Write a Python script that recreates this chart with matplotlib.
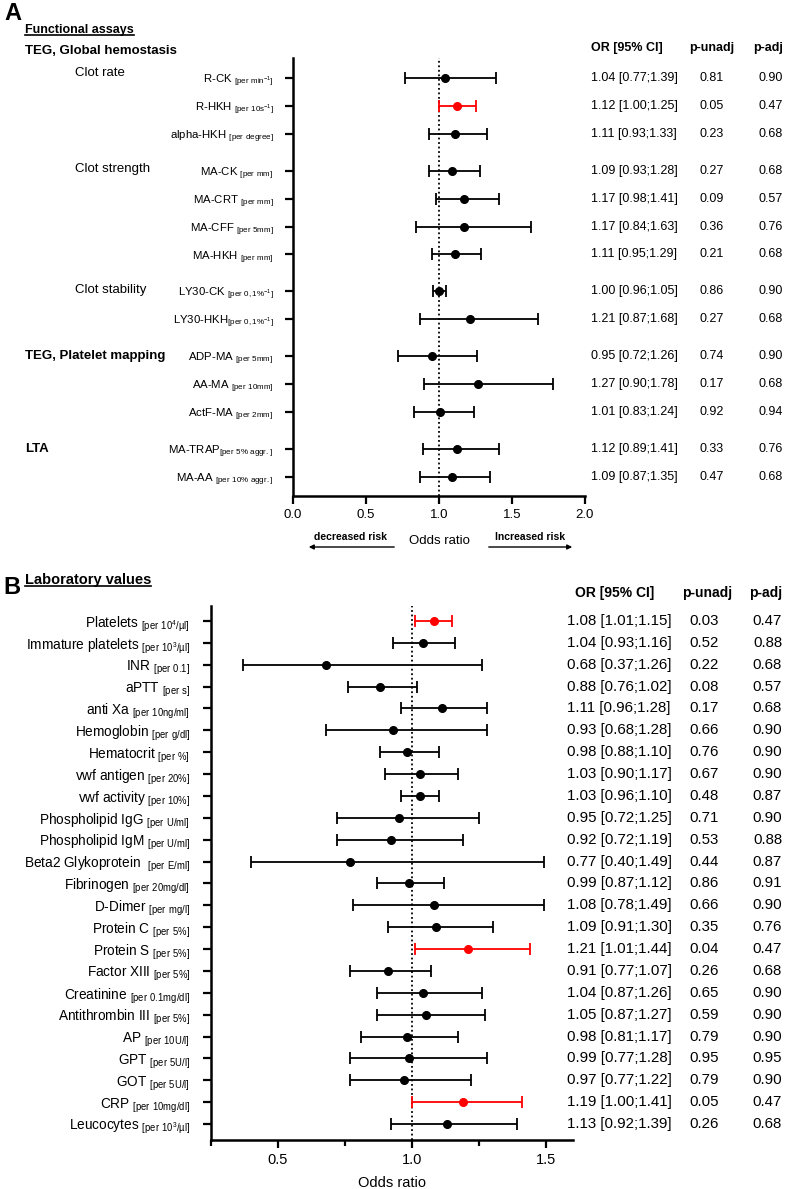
import numpy as np
import matplotlib
matplotlib.use("Agg")
import matplotlib.pyplot as plt
import matplotlib.transforms as mtransforms
from matplotlib.lines import Line2D
from matplotlib.patches import FancyArrowPatch

plt.rcParams['font.family'] = ['Liberation Sans', 'DejaVu Sans']
plt.rcParams['mathtext.default'] = 'regular'

W, H = 786, 1189

# ---- Panel A: functional assays ----
a_names = ["R-CK ", "R-HKH ", "alpha-HKH ", "MA-CK ", "MA-CRT ", "MA-CFF ", "MA-HKH ",
           "LY30-CK ", "LY30-HKH", "ADP-MA ", "AA-MA ", "ActF-MA ", "MA-TRAP", "MA-AA "]
a_units = [r"per\ min^{-1}", r"per\ 10s^{-1}", r"per\ degree", r"per\ mm", r"per\ mm",
           r"per\ 5mm", r"per\ mm", r"per\ 0,1\%^{-1}", r"per\ 0,1\%^{-1}", r"per\ 5mm",
           r"per\ 10mm", r"per\ 2mm", r"per\ 5\%\ aggr.", r"per\ 10\%\ aggr."]
a_block = [0, 0, 0, 1, 1, 1, 1, 2, 2, 3, 3, 3, 4, 4]
a_or = [1.04, 1.12, 1.11, 1.09, 1.17, 1.17, 1.11, 1.00, 1.21, 0.95, 1.27, 1.01, 1.12, 1.09]
a_lo = [0.77, 1.00, 0.93, 0.93, 0.98, 0.84, 0.95, 0.96, 0.87, 0.72, 0.90, 0.83, 0.89, 0.87]
a_hi = [1.39, 1.25, 1.33, 1.28, 1.41, 1.63, 1.29, 1.05, 1.68, 1.26, 1.78, 1.24, 1.41, 1.35]
a_punadj = [0.81, 0.05, 0.23, 0.27, 0.09, 0.36, 0.21, 0.86, 0.27, 0.74, 0.17, 0.92, 0.33, 0.47]
a_padj = [0.90, 0.47, 0.68, 0.68, 0.57, 0.76, 0.68, 0.90, 0.68, 0.90, 0.68, 0.94, 0.76, 0.68]
a_sublabels = {0: "Clot rate", 3: "Clot strength", 7: "Clot stability"}
a_sections = {0: "TEG, Global hemostasis", 9: "TEG, Platelet mapping", 12: "LTA"}

# ---- Panel B: laboratory values ----
b_names = ["Platelets ", "Immature platelets ", "INR ", "aPTT ", "anti Xa ", "Hemoglobin ",
           "Hematocrit ", "vwf antigen ", "vwf activity ", "Phospholipid IgG ",
           "Phospholipid IgM ", "Beta2 Glykoprotein  ", "Fibrinogen ", "D-Dimer ",
           "Protein C ", "Protein S ", "Factor XIII ", "Creatinine ", "Antithrombin III ",
           "AP ", "GPT ", "GOT ", "CRP ", "Leucocytes "]
b_units = [r"per\ 10^{4}/µl", r"per\ 10^{3}/µl", r"per\ 0.1", r"per\ s", r"per\ 10ng/ml",
           r"per\ g/dl", r"per\ \%", r"per\ 20\%", r"per\ 10\%", r"per\ U/ml", r"per\ U/ml",
           r"per\ E/ml", r"per\ 20mg/dl", r"per\ mg/l", r"per\ 5\%", r"per\ 5\%", r"per\ 5\%",
           r"per\ 0.1mg/dl", r"per\ 5\%", r"per\ 10U/l", r"per\ 5U/l", r"per\ 5U/l",
           r"per\ 10mg/dl", r"per\ 10^{3}/µl"]
b_or = [1.08, 1.04, 0.68, 0.88, 1.11, 0.93, 0.98, 1.03, 1.03, 0.95, 0.92, 0.77,
        0.99, 1.08, 1.09, 1.21, 0.91, 1.04, 1.05, 0.98, 0.99, 0.97, 1.19, 1.13]
b_lo = [1.01, 0.93, 0.37, 0.76, 0.96, 0.68, 0.88, 0.90, 0.96, 0.72, 0.72, 0.40,
        0.87, 0.78, 0.91, 1.01, 0.77, 0.87, 0.87, 0.81, 0.77, 0.77, 1.00, 0.92]
b_hi = [1.15, 1.16, 1.26, 1.02, 1.28, 1.28, 1.10, 1.17, 1.10, 1.25, 1.19, 1.49,
        1.12, 1.49, 1.30, 1.44, 1.07, 1.26, 1.27, 1.17, 1.28, 1.22, 1.41, 1.39]
b_punadj = [0.03, 0.52, 0.22, 0.08, 0.17, 0.66, 0.76, 0.67, 0.48, 0.71, 0.53, 0.44,
            0.86, 0.66, 0.35, 0.04, 0.26, 0.65, 0.59, 0.79, 0.95, 0.79, 0.05, 0.26]
b_padj = [0.47, 0.88, 0.68, 0.57, 0.68, 0.90, 0.90, 0.90, 0.87, 0.90, 0.88, 0.87,
          0.91, 0.90, 0.76, 0.47, 0.68, 0.90, 0.90, 0.90, 0.95, 0.90, 0.47, 0.68]


def px(x, y):
    """pixel position (from top left) -> figure fraction"""
    return x / W, 1 - y / H


def forest(ax, yv, orv, lo, hi, pun):
    for y, o, l, h, p in zip(yv, orv, lo, hi, pun):
        c = 'red' if p <= 0.05 else 'black'
        ax.errorbar(o, y, xerr=[[o - l], [h - o]], fmt='o', color=c, ms=5.5,
                    capsize=4, elinewidth=1.3, capthick=1.3)
    ax.axvline(1.0, color='black', ls=(0, (1, 1.5)), lw=1.3, zorder=0)
    for s in ['top', 'right']:
        ax.spines[s].set_visible(False)
    for s in ['left', 'bottom']:
        ax.spines[s].set_linewidth(1.8)
    ax.tick_params(width=1.6, length=6)


def table(fig, ax, yv, orv, lo, hi, pun, padj, xs, fs):
    tr = mtransforms.blended_transform_factory(fig.transFigure, ax.transData)
    for y, o, l, h, p, q in zip(yv, orv, lo, hi, pun, padj):
        fig.text(xs[0] / W, y, f"{o:.2f} [{l:.2f};{h:.2f}]", transform=tr,
                 ha='left', va='center', fontsize=fs)
        fig.text(xs[1] / W, y, f"{p:.2f}", transform=tr, ha='center', va='center', fontsize=fs)
        fig.text(xs[2] / W, y, f"{q:.2f}", transform=tr, ha='right', va='center', fontsize=fs)


fig = plt.figure(figsize=(W / 100, H / 100), dpi=100)

# ---------------- Panel A ----------------
axA = fig.add_axes([293 / W, 1 - 496 / H, 292 / W, 438 / H])
a_y = np.arange(len(a_or)) + 0.32 * np.array(a_block)
forest(axA, a_y, a_or, a_lo, a_hi, a_punadj)
axA.set_xlim(0, 2)
axA.set_ylim(a_y[-1] + 0.68, -0.71)
axA.set_xticks([0, 0.5, 1.0, 1.5, 2.0])
axA.set_xticklabels(["0.0", "0.5", "1.0", "1.5", "2.0"], fontsize=9.5)
axA.set_yticks(a_y)
axA.set_yticklabels([n + "$_{[" + u + "]}$" for n, u in zip(a_names, a_units)], fontsize=8.2)
axA.tick_params(axis='y', pad=8)
axA.set_xlabel("Odds ratio", fontsize=9.5, labelpad=10)

trA = mtransforms.blended_transform_factory(fig.transFigure, axA.transData)
for i, s in a_sublabels.items():
    fig.text(75 / W, a_y[i] - (0.18 if i == 0 else 0.05), s, transform=trA,
             ha='left', va='center', fontsize=9.5)
for i, s in a_sections.items():
    if i == 0:
        continue
    fig.text(25 / W, a_y[i], s, transform=trA, ha='left', va='center',
             fontsize=9.5, fontweight='bold')
fig.text(*px(25, 51), a_sections[0], ha='left', va='center', fontsize=9.5, fontweight='bold')

table(fig, axA, a_y, a_or, a_lo, a_hi, a_punadj, a_padj, (591, 712, 783), 9)
fig.text(*px(591, 48), "OR [95% CI]", ha='left', va='center', fontsize=9, fontweight='bold')
fig.text(*px(712, 48), "p-unadj", ha='center', va='center', fontsize=9, fontweight='bold')
fig.text(*px(783, 48), "p-adj", ha='right', va='center', fontsize=9, fontweight='bold')

fig.text(*px(4, 13), "A", ha='left', va='center', fontsize=17, fontweight='bold')
tA = fig.text(*px(25, 30), "Functional assays", ha='left', va='center',
              fontsize=9, fontweight='bold')

# risk arrows
fig.text(*px(351, 537), "decreased risk", ha='center', va='center', fontsize=7.5, fontweight='bold')
fig.text(*px(530, 537), "Increased risk", ha='center', va='center', fontsize=7.5, fontweight='bold')
for a, b in [((397, 547), (306, 547)), ((486, 547), (575, 547))]:
    fig.add_artist(FancyArrowPatch(px(*a), px(*b), transform=fig.transFigure,
                                   arrowstyle='-|>', mutation_scale=7, lw=1, color='black'))

# ---------------- Panel B ----------------
axB = fig.add_axes([211 / W, 1 - 1140 / H, 362 / W, 534 / H])
b_y = np.arange(len(b_or))
forest(axB, b_y, b_or, b_lo, b_hi, b_punadj)
axB.set_xlim(0.25, 1.6)
axB.set_ylim(b_y[-1] + 0.73, -0.68)
axB.set_xticks([0.5, 1.0, 1.5])
axB.set_xticklabels(["0.5", "1.0", "1.5"], fontsize=10.5)
axB.set_xticks([0.25, 0.75, 1.25], minor=True)
axB.tick_params(axis='x', which='minor', length=4, width=1.6)
axB.set_yticks(b_y)
axB.set_yticklabels([n + "$_{[" + u + "]}$" for n, u in zip(b_names, b_units)], fontsize=9.8)
axB.tick_params(axis='y', pad=9)
axB.set_xlabel("Odds ratio", fontsize=10.5, labelpad=6)

table(fig, axB, b_y, b_or, b_lo, b_hi, b_punadj, b_padj, (567, 704, 782), 10.8)
fig.text(*px(575, 593), "OR [95% CI]", ha='left', va='center', fontsize=10, fontweight='bold')
fig.text(*px(707, 593), "p-unadj", ha='center', va='center', fontsize=10, fontweight='bold')
fig.text(*px(782, 593), "p-adj", ha='right', va='center', fontsize=10, fontweight='bold')

fig.text(*px(3, 588), "B", ha='left', va='center', fontsize=17, fontweight='bold')
tB = fig.text(*px(25, 580), "Laboratory values", ha='left', va='center',
              fontsize=10.5, fontweight='bold')

# underline the panel titles
renderer = fig.canvas.get_renderer()
for t in (tA, tB):
    bb = t.get_window_extent(renderer)
    fig.add_artist(Line2D([bb.x0 / W, bb.x1 / W], [(bb.y0 + 1) / H] * 2,
                          transform=fig.transFigure, color='black', lw=1.2))

fig.savefig("out.png", dpi=100)
